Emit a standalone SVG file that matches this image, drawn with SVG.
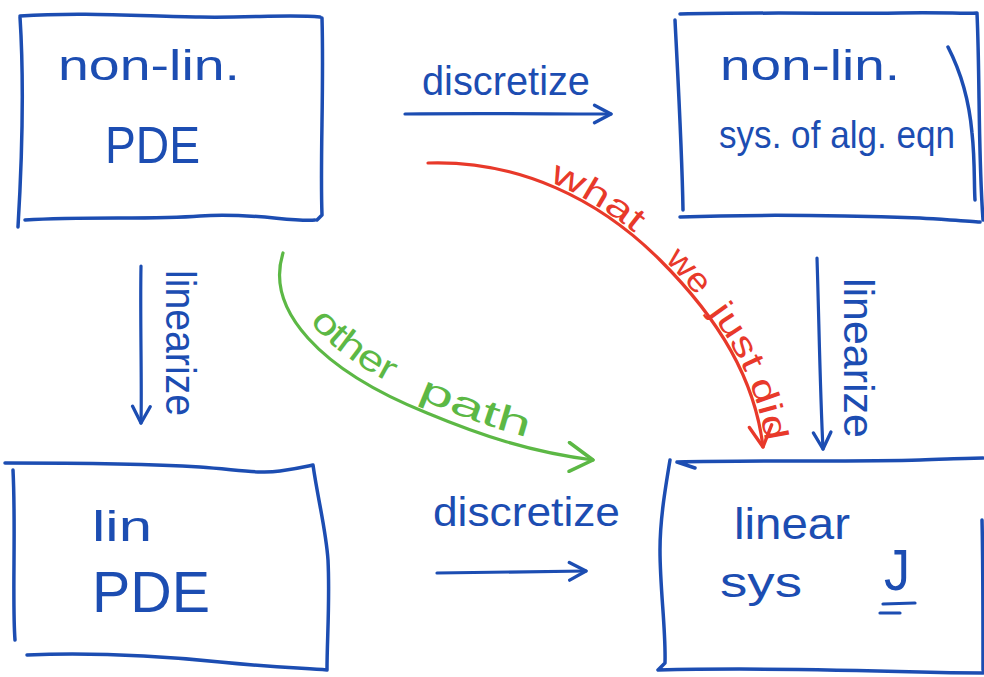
<svg xmlns="http://www.w3.org/2000/svg" xmlns:xlink="http://www.w3.org/1999/xlink" width="984" height="677" viewBox="0 0 984 677">
<style>
.box{fill:none;stroke:#1c4db2;stroke-width:3.5;stroke-linecap:round;stroke-linejoin:round}
.line{fill:none;stroke-width:3.2;stroke-linecap:round;stroke-linejoin:round}
.blue{stroke:#1c4db2}
.red{stroke:#e8392a}
.green{stroke:#5cb845}
.t{font-family:"Liberation Sans","DejaVu Sans",sans-serif;fill:#1c4db2}
.tr{font-family:"Liberation Sans","DejaVu Sans",sans-serif;fill:#e8392a;font-size:34px}
.tg{font-family:"Liberation Sans","DejaVu Sans",sans-serif;fill:#5cb845;font-size:36px}
</style>
<defs>
<marker id="hb" viewBox="0 0 20 20" refX="18" refY="10" markerWidth="22" markerHeight="22" markerUnits="userSpaceOnUse" orient="auto">
<path d="M3,2 L18,10 L3,18" fill="none" stroke="#1c4db2" stroke-width="3" stroke-linecap="round" stroke-linejoin="round"/>
</marker>
<marker id="hr" viewBox="0 0 20 20" refX="18" refY="10" markerWidth="28" markerHeight="28" markerUnits="userSpaceOnUse" orient="auto">
<path d="M3,2 L18,10 L3,18" fill="none" stroke="#e8392a" stroke-width="2.4" stroke-linecap="round" stroke-linejoin="round"/>
</marker>
<marker id="hg" viewBox="0 0 20 20" refX="18" refY="10" markerWidth="32" markerHeight="32" markerUnits="userSpaceOnUse" orient="auto">
<path d="M2,1 L18,10 L4,19" fill="none" stroke="#5cb845" stroke-width="2.2" stroke-linecap="round" stroke-linejoin="round"/>
</marker>
<path id="redPath" d="M428,163 C520,160 600,200 660,260 C720,320 755,380 763,447"/>
<path id="greenPath" d="M283,253 C265,310 320,370 427,413 C480,435 530,452 593,460"/>
</defs>

<g id="node-nonlin-pde">
<path class="box" d="M20,16 C80,12 140,16 200,17 C250,18 290,14 320,17 M20,17 C24,80 22,160 18,227 M322,18 C324,90 320,160 322,215 L317,220 M25,220 C90,216 150,220 200,216 C250,212 290,222 315,220"/>
<text class="t" x="58" y="80" font-size="42" textLength="182" lengthAdjust="spacingAndGlyphs">non-lin.</text>
<text class="t" x="105" y="163" font-size="52" textLength="95" lengthAdjust="spacingAndGlyphs">PDE</text>
</g>

<g id="node-nonlin-sys">
<path class="box" d="M680,14 C760,12 850,14 900,13 C940,12 965,14 977,13 M675,20 C678,80 682,150 683,210 M680,217 C760,214 860,216 920,218 C950,220 970,221 980,222 M977,13 C980,80 978,150 983,220 M948,47 C965,80 970,110 972,133 C975,160 974,185 975,200"/>
<text class="t" x="720" y="80" font-size="42" textLength="180" lengthAdjust="spacingAndGlyphs">non-lin.</text>
<text class="t" x="719" y="148" font-size="39" textLength="236" lengthAdjust="spacingAndGlyphs">sys. of alg. eqn</text>
</g>

<g id="node-lin-pde">
<path class="box" d="M5,463 C80,463 150,464 200,467 C240,470 260,474 280,471 C300,468 308,466 313,465 M13,470 C16,530 12,600 15,640 M313,465 C318,500 326,530 328,560 C330,600 327,640 327,670 M27,655 C100,652 160,656 220,662 C270,667 300,668 327,670"/>
<text class="t" x="92" y="541" font-size="42" textLength="60" lengthAdjust="spacingAndGlyphs">lin</text>
<text class="t" x="92" y="612" font-size="58" textLength="118" lengthAdjust="spacingAndGlyphs">PDE</text>
</g>

<g id="node-linear-sys">
<path class="box" d="M677,462 C760,460 860,462 920,460 C950,459 970,458 983,458 M677,462 L695,468 M670,460 C665,490 660,520 660,550 C660,590 666,630 665,663 L658,670 M658,670 C740,668 850,670 920,672 C950,673 970,673 983,673 M982,520 C983,560 983,620 983,670"/>
<text class="t" x="734" y="539" font-size="44" textLength="116" lengthAdjust="spacingAndGlyphs">linear</text>
<text class="t" x="720" y="597" font-size="42" textLength="82" lengthAdjust="spacingAndGlyphs">sys</text>
<text class="t" x="884" y="590" font-size="58" textLength="26" lengthAdjust="spacingAndGlyphs">J</text>
<path class="line blue" d="M883,604 L915,603 M880,613 L900,613"/>
</g>

<g id="connectors">
<path class="line blue" d="M405,114 C480,113 550,114 611,114" marker-end="url(#hb)"/>
<path class="line blue" d="M437,573 C490,572 540,572 586,571" marker-end="url(#hb)"/>
<path class="line blue" d="M141,266 C140,320 142,380 141,423" marker-end="url(#hb)"/>
<path class="line blue" d="M817,258 C819,320 820,390 823,449" marker-end="url(#hb)"/>
<use href="#redPath" class="line red" marker-end="url(#hr)"/>
<use href="#greenPath" class="line green" marker-end="url(#hg)"/>
</g>

<g id="labels">
<text class="t" x="422" y="95" font-size="40" textLength="168" lengthAdjust="spacingAndGlyphs">discretize</text>
<text class="t" x="433" y="526" font-size="40" textLength="187" lengthAdjust="spacingAndGlyphs">discretize</text>
<text class="t" font-size="42" textLength="146" lengthAdjust="spacingAndGlyphs" transform="translate(166,270) rotate(90)">linearize</text>
<text class="t" font-size="42" textLength="160" lengthAdjust="spacingAndGlyphs" transform="translate(844,278) rotate(90)">linearize</text>
<text class="tr" dy="-3"><textPath href="#redPath" startOffset="122" textLength="100" lengthAdjust="spacingAndGlyphs">what</textPath></text>
<text class="tr" dy="-3"><textPath href="#redPath" startOffset="262" textLength="48" lengthAdjust="spacingAndGlyphs">we</textPath></text>
<text class="tr" dy="-3"><textPath href="#redPath" startOffset="330" textLength="70" lengthAdjust="spacingAndGlyphs">just</textPath></text>
<text class="tr" dy="-3"><textPath href="#redPath" startOffset="410" textLength="62" lengthAdjust="spacingAndGlyphs">did</textPath></text>
<text class="tg" dy="-12"><textPath href="#greenPath" startOffset="82" textLength="105" lengthAdjust="spacingAndGlyphs">other</textPath></text>
<text class="tg" dy="-10"><textPath href="#greenPath" startOffset="220" textLength="118" lengthAdjust="spacingAndGlyphs">path</textPath></text>
</g>
</svg>
